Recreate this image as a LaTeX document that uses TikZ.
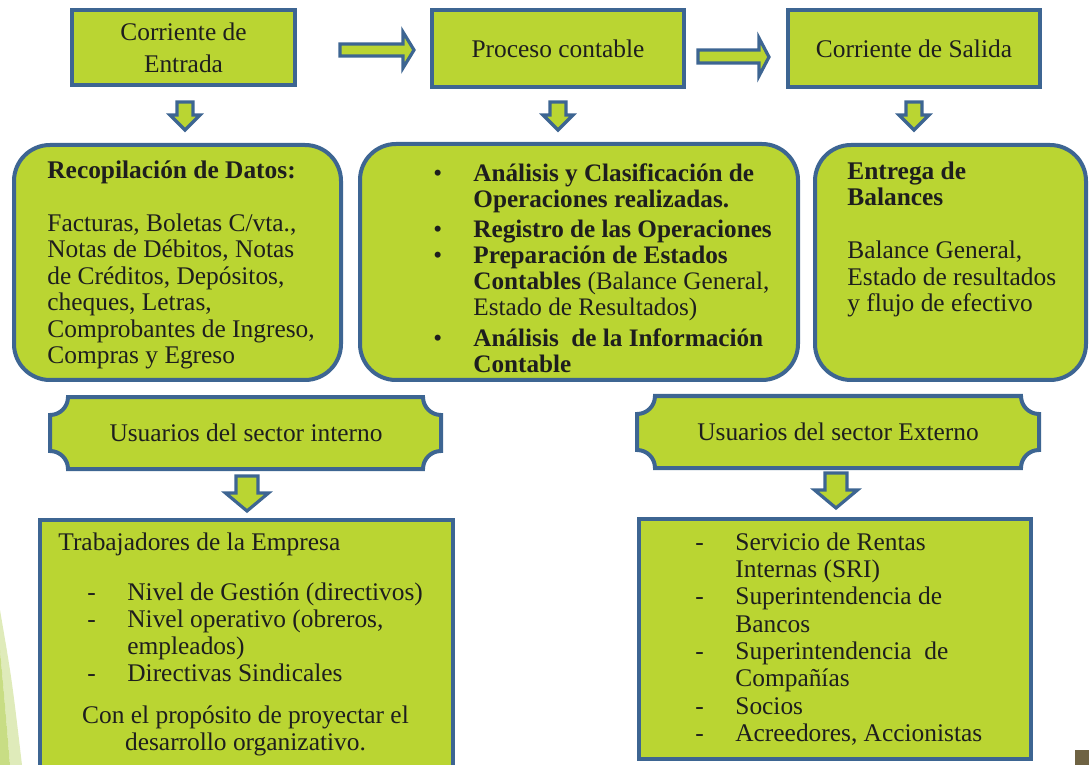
\documentclass[tikz,border=0pt]{standalone}
\usepackage{fontspec}
\setmainfont{Liberation Serif}
\definecolor{lima}{HTML}{BAD532}
\definecolor{azul}{HTML}{3D6592}
\definecolor{texto}{HTML}{1E1E1E}
\definecolor{verdeclaro}{HTML}{DFEBBA}
\definecolor{verdemedio}{HTML}{C8DD84}
\definecolor{cafe}{HTML}{6F6343}
\tikzset{
    caja/.style={draw=azul, fill=lima, line width=2pt},
    redonda/.style={caja, rounded corners=18pt},
    flecha/.style={draw=azul, fill=lima, line width=1.6pt, line join=miter},
    letra/.style={text=texto, font=\fontsize{12.7pt}{13.2pt}\selectfont, inner sep=0pt, align=left},
}
\newcommand{\punto}{\makebox[20pt][l]{\textbullet}}
\newcommand{\guion}{\makebox[20pt][l]{-}}
\begin{document}
\begin{tikzpicture}[x=0.5pt, y=-0.5pt]
        \useasboundingbox (0,0) rectangle (1089,765);
        \clip (0,0) rectangle (1089,765);

        % fondo de la diapositiva
        \fill[verdeclaro] (0,610) .. controls (12,680) .. (22,765) -- (10,765) .. controls (5,705) .. (0,650) -- cycle;
        \fill[verdemedio] (0,650) .. controls (5,705) .. (10,765) -- (0,765) -- cycle;
        \fill[cafe] (1075,750) rectangle (1089,765);

        % fila superior
        \node[caja, letra, align=center, minimum width=111.5pt, minimum height=37.5pt] (entrada) at (183.5,47.5) {Corriente de\\[2.8pt]Entrada};
        \node[caja, letra, align=center, minimum width=126pt, minimum height=38.5pt] (proceso) at (558,48.5) {Proceso contable};
        \node[caja, letra, align=center, minimum width=126pt, minimum height=38.5pt] (salida) at (914,48.5) {Corriente de Salida};

        \draw[flecha] (340,44) -- (403,44) -- (403,32) -- (414,50) -- (403,68) -- (403,56) -- (340,56) -- cycle;
        \draw[flecha] (698,50) -- (759,50) -- (759,38) -- (769,57) -- (759,76) -- (759,63) -- (698,63) -- cycle;

        \foreach \c in {185, 558, 914} {
            \draw[flecha] (\c-8,102) -- (\c+8,102) -- (\c+8,115) -- (\c+15,115) -- (\c,130) -- (\c-15,115) -- (\c-8,115) -- cycle;
        }

        % cajas redondeadas
        \node[redonda, minimum width=163.5pt, minimum height=117.5pt] (datos) at (177.5,262.5) {};
        \node[redonda, minimum width=219pt, minimum height=118pt] (operaciones) at (579,262) {};
        \node[redonda, minimum width=135.5pt, minimum height=117.5pt] (balances) at (950.5,262.5) {};

        \node[letra, anchor=west] (datostxt) at (47,265) {\textbf{Recopilación de Datos:}\\[13.2pt]
            Facturas, Boletas C/vta.,\\ Notas de Débitos, Notas\\ de Créditos, Depósitos,\\
            cheques, Letras,\\ Comprobantes de Ingreso,\\ Compras y Egreso};
        \node[letra, anchor=west, font=\fontsize{12.6pt}{13pt}\selectfont] (operacionestxt) at (433,268) {\punto\textbf{Análisis y Clasificación de}\\
            \hspace*{20pt}\textbf{Operaciones realizadas.}\\[2pt]
            \punto\textbf{Registro de las Operaciones}\\
            \punto\textbf{Preparación de Estados}\\
            \hspace*{20pt}\textbf{Contables} (Balance General,\\
            \hspace*{20pt}Estado de Resultados)\\[2.5pt]
            \punto\textbf{Análisis\ \ de la Información}\\
            \hspace*{20pt}\textbf{Contable}};
        \node[letra, anchor=west] (balancestxt) at (847,239.5) {\textbf{Entrega de}\\ \textbf{Balances}\\[13.2pt]
            Balance General,\\ Estado de resultados\\ y flujo de efectivo};

        % usuarios
        \draw[caja] (68,397) -- (423,397) arc[start angle=180, end angle=270, radius=9pt]
            -- (441,451) arc[start angle=90, end angle=180, radius=9pt]
            -- (68,469) arc[start angle=0, end angle=90, radius=9pt]
            -- (50,415) arc[start angle=-90, end angle=0, radius=9pt] -- cycle;
        \node[letra] (interno) at (246,433) {Usuarios del sector interno};

        \draw[caja] (655,396) -- (1021,396) arc[start angle=180, end angle=270, radius=9pt]
            -- (1039,450) arc[start angle=90, end angle=180, radius=9pt]
            -- (655,468) arc[start angle=0, end angle=90, radius=9pt]
            -- (637,414) arc[start angle=-90, end angle=0, radius=9pt] -- cycle;
        \node[letra] (externo) at (838,432) {Usuarios del sector Externo};

        \draw[flecha] (236,476) -- (258,476) -- (258,493) -- (268.5,493) -- (247,511) -- (225.5,493) -- (236,493) -- cycle;
        \draw[flecha] (825,473) -- (847,473) -- (847,490) -- (857.5,490) -- (836,508) -- (814.5,490) -- (825,490) -- cycle;

        % cajas inferiores
        \draw[caja] (40,520) rectangle (453,800);
        \draw[caja] (639,519) rectangle (1031,759);

        \node[letra, anchor=west] (trabajadores) at (58,544) {Trabajadores de la Empresa};
        \node[letra, anchor=west, font=\fontsize{12.7pt}{13.5pt}\selectfont] (niveles) at (87,632.5) {\guion Nivel de Gestión (directivos)\\
            \guion Nivel operativo (obreros,\\ \hspace*{20pt}empleados)\\ \guion Directivas Sindicales};
        \node[letra, align=center, font=\fontsize{12.7pt}{13.5pt}\selectfont] (proposito) at (245.5,730.5) {Con el propósito de proyectar el\\ desarrollo organizativo.};

        \node[letra, anchor=west, font=\fontsize{12.7pt}{13.65pt}\selectfont] (entes) at (695,639) {\guion Servicio de Rentas\\ \hspace*{20pt}Internas (SRI)\\
            \guion Superintendencia de\\ \hspace*{20pt}Bancos\\
            \guion Superintendencia\ \ de\\ \hspace*{20pt}Compañías\\
            \guion Socios\\ \guion Acreedores, Accionistas};
\end{tikzpicture}
\end{document}
